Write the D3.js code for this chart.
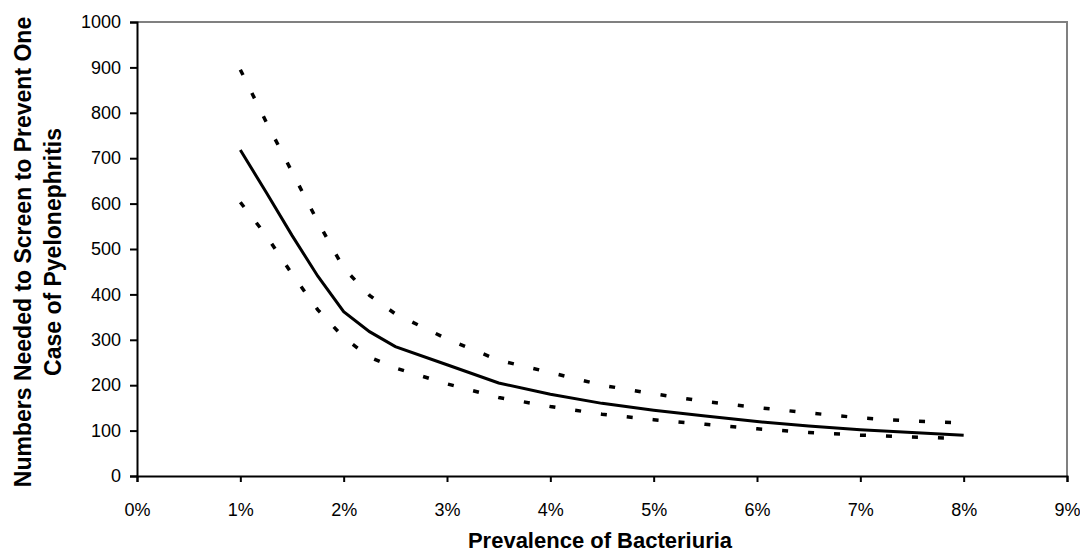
<!DOCTYPE html>
<html>
<head>
<meta charset="utf-8">
<script src="https://cdn.jsdelivr.net/npm/d3@7"></script>
<style>
  body { margin: 0; background: #fff; }
  text { font-family: "Liberation Sans", Arial, sans-serif; fill: #000; }
</style>
</head>
<body>
<div id="chart"></div>
<script>
// Plot constants
const WIDTH = 1080;
const HEIGHT = 552;

// Data (prevalence in %, NNT)
const prevalence = [1, 1.25, 1.5, 1.75, 2, 2.25, 2.5, 3, 3.5, 4, 4.5, 5, 5.5, 6, 6.5, 7, 7.5, 8];
const nntMid   = [718, 625, 530, 440, 362, 318, 285, 245, 205, 180, 160, 145, 132, 120, 110, 102, 96, 90];
const nntUpper = [895, 780, 670, 560, 458, 398, 357, 302, 255, 228, 200, 181, 164, 151, 139, 128, 121, 117];
const nntLower = [603, 530, 445, 366, 305, 262, 238, 203, 173, 153, 136, 124, 114, 104, 96, 90, 86, 82];

const xTicks = [0, 1, 2, 3, 4, 5, 6, 7, 8, 9];
const yTicks = [0, 100, 200, 300, 400, 500, 600, 700, 800, 900, 1000];

const xTitle = "Prevalence of Bacteriuria";
const yTitle = ["Numbers Needed to Screen to Prevent One", "Case of Pyelonephritis"];

const svg = d3.select("#chart")
  .append("svg")
  .attr("width", WIDTH)
  .attr("height", HEIGHT);

const x = d3.scaleLinear().domain([0, 9]).range([137, 1067]);
const y = d3.scaleLinear().domain([0, 1000]).range([476, 22]);

// Plot area border (top and right)
svg.append("path")
  .attr("d", `M${x(0)},${y(1000)}H${x(9)}V${y(0)}`)
  .attr("fill", "none")
  .attr("stroke", "#808080")
  .attr("stroke-width", 2);

// Axes
const xAxis = svg.append("g")
  .attr("transform", `translate(0,${y(0)})`)
  .call(d3.axisBottom(x)
    .tickValues(xTicks)
    .tickFormat(d => d + "%")
    .tickSizeOuter(0)
    .tickSize(6)
    .tickPadding(21));

const yAxis = svg.append("g")
  .attr("transform", `translate(${x(0)},0)`)
  .call(d3.axisLeft(y)
    .tickValues(yTicks)
    .tickFormat(d3.format("d"))
    .tickSizeOuter(0)
    .tickSize(7)
    .tickPadding(9));

[xAxis, yAxis].forEach(a => {
  a.selectAll("path, line").attr("stroke", "#000").attr("stroke-width", 2);
  a.selectAll("text")
    .style("font-family", '"Liberation Sans", Arial, sans-serif')
    .style("font-size", "18px")
    .attr("fill", "#000");
});

// Lines
const line = d3.line()
  .x((d, i) => x(prevalence[i]))
  .y(d => y(d));

svg.append("path")
  .datum(nntUpper)
  .attr("d", line)
  .attr("fill", "none")
  .attr("stroke", "#000")
  .attr("stroke-width", 3.5)
  .attr("stroke-dasharray", "6,20");

svg.append("path")
  .datum(nntLower)
  .attr("d", line)
  .attr("fill", "none")
  .attr("stroke", "#000")
  .attr("stroke-width", 3.5)
  .attr("stroke-dasharray", "6,20");

svg.append("path")
  .datum(nntMid)
  .attr("d", line)
  .attr("fill", "none")
  .attr("stroke", "#000")
  .attr("stroke-width", 3);

// Titles
svg.append("text")
  .attr("x", 600)
  .attr("y", 548)
  .attr("text-anchor", "middle")
  .style("font-size", "22px")
  .style("font-weight", "bold")
  .text(xTitle);

yTitle.forEach((t, i) => {
  svg.append("text")
    .attr("transform", `translate(${31 + i * 30},252) rotate(-90)`)
    .attr("text-anchor", "middle")
    .style("font-size", "23px")
    .style("font-weight", "bold")
    .text(t);
});
</script>
</body>
</html>
